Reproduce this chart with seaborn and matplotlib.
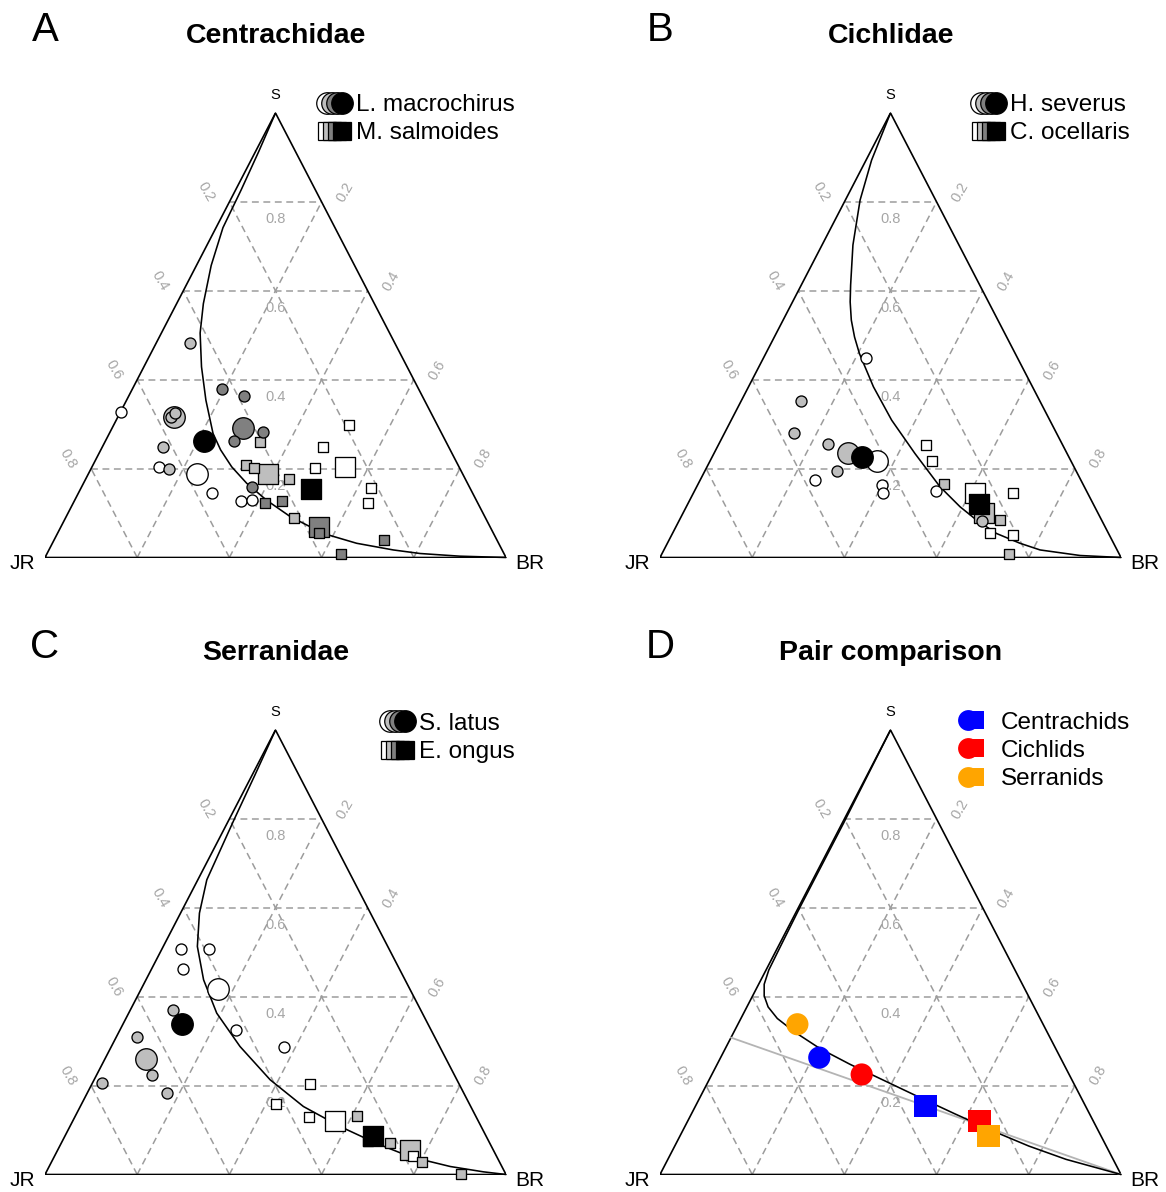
import matplotlib
matplotlib.use("Agg")
import matplotlib.pyplot as plt
import pandas as pd
import seaborn as sns
from matplotlib.lines import Line2D
from matplotlib.legend_handler import HandlerTuple

sns.set_style("white")
plt.rcParams['font.family'] = ['Liberation Sans', 'DejaVu Sans']
plt.rcParams['text.color'] = 'black'

FIG_W, FIG_H = 1166, 1192
SIDE_PX, HEIGHT_PX = 461, 444.5
FILL = {"w": "white", "l": "#bebebe", "d": "#808080", "k": "black"}
GRID_COL = "#9c9c9c"
TICKS = [0.2, 0.4, 0.6, 0.8]

# values are ternary proportions: BR and S (JR = 1 - BR - S)
# kind: lower case = single fish, upper case = group mean, K = overall mean

# A: Centrachidae
a_circ_br = [0.074, 0.002, 0.195, 0.250, 0.121, 0.116, 0.120, 0.214, 0.285, 0.332,
             0.278, 0.132, 0.146, 0.170, 0.235, 0.290, 0.371, 0.362, 0.384]
a_circ_s = [0.482, 0.327, 0.379, 0.364, 0.317, 0.315, 0.324, 0.263, 0.291, 0.283,
            0.262, 0.249, 0.204, 0.200, 0.188, 0.146, 0.158, 0.127, 0.129]
a_circ_kind = "lwddLllKDddlwlWwdww"
a_sq_br = [0.511, 0.479, 0.336, 0.332, 0.352, 0.391, 0.440, 0.485, 0.549, 0.499,
           0.629, 0.639, 0.416, 0.450, 0.496, 0.559, 0.567, 0.716, 0.638]
a_sq_s = [0.299, 0.249, 0.259, 0.209, 0.201, 0.187, 0.177, 0.201, 0.204, 0.154,
          0.156, 0.122, 0.122, 0.128, 0.089, 0.069, 0.054, 0.039, 0.007]
a_sq_kind = "wwlllLlwWKwwddlDddd"
a_curve_br = [0, 0.007, 0.012, 0.015, 0.032, 0.058, 0.084, 0.125, 0.172, 0.225, 0.260,
              0.303, 0.354, 0.416, 0.486, 0.577, 0.660, 0.747, 0.809, 0.898, 1.0]
a_curve_s = [1, 0.913, 0.827, 0.742, 0.657, 0.571, 0.505, 0.429, 0.354, 0.279, 0.242,
             0.204, 0.167, 0.129, 0.092, 0.054, 0.032, 0.017, 0.009, 0.003, 0]

# B: Cichlidae
b_circ_br = [0.223, 0.130, 0.151, 0.237, 0.290, 0.325, 0.362, 0.286, 0.249, 0.400,
             0.411, 0.523, 0.657]
b_circ_s = [0.448, 0.352, 0.281, 0.255, 0.234, 0.225, 0.217, 0.195, 0.174, 0.162,
            0.144, 0.150, 0.082]
b_circ_kind = "wlllLKWlwwwwl"
b_sq_br = [0.451, 0.482, 0.534, 0.611, 0.633, 0.653, 0.695, 0.689, 0.694, 0.741, 0.754]
b_sq_s = [0.252, 0.216, 0.165, 0.144, 0.120, 0.100, 0.084, 0.054, 0.144, 0.051, 0.007]
b_sq_kind = "wwlWKLlwwwl"
b_curve_br = [0, 0.012, 0.032, 0.067, 0.107, 0.125, 0.148, 0.174, 0.203, 0.271, 0.348,
              0.436, 0.528, 0.594, 0.645, 0.703, 0.765, 0.816, 0.909, 1.0]
b_curve_s = [1, 0.894, 0.804, 0.703, 0.613, 0.575, 0.534, 0.496, 0.459, 0.384, 0.309,
             0.234, 0.159, 0.114, 0.084, 0.054, 0.032, 0.017, 0.0045, 0]

# C: Serranidae
c_circ_br = [0.041, 0.102, 0.069, 0.167, 0.092, 0.129, 0.251, 0.375, 0.044, 0.090,
             0.120, 0.021, 0.173]
c_circ_s = [0.507, 0.507, 0.462, 0.417, 0.370, 0.338, 0.325, 0.286, 0.310, 0.259,
            0.224, 0.206, 0.183]
c_circ_kind = "wwwWlKwwlLlll"
c_sq_br = [0.473, 0.421, 0.509, 0.569, 0.611, 0.669, 0.662, 0.713, 0.764, 0.778, 0.804, 0.901]
c_sq_s = [0.203, 0.158, 0.129, 0.121, 0.132, 0.087, 0.076, 0.070, 0.055, 0.042, 0.027, 0.001]
c_sq_kind = "wwwWlKwlLwll"
c_curve_br = [0, 0.006, 0.011, 0.016, 0.0195, 0.041, 0.074, 0.125, 0.191, 0.279, 0.382,
              0.484, 0.586, 0.684, 0.772, 0.870, 0.948, 1.0]
c_curve_s = [1, 0.899, 0.798, 0.719, 0.663, 0.588, 0.513, 0.438, 0.363, 0.288, 0.213,
             0.153, 0.108, 0.070, 0.040, 0.018, 0.006, 0]

# D: pair comparison (overall means of each family)
pair_names = ["Centrachids", "Cichlids", "Serranids"]
pair_colors = ["#0000ff", "#ff0000", "#ffa500"]
pair_circ_br = [0.214, 0.325, 0.129]
pair_circ_s = [0.263, 0.225, 0.338]
pair_sq_br = [0.499, 0.633, 0.669]
pair_sq_s = [0.154, 0.120, 0.087]
pair_curve_br = [0, 0.003, 0.003, 0.005, 0.006, 0.012, 0.025, 0.046, 0.079, 0.131, 0.206,
                 0.288, 0.379, 0.470, 0.570, 0.670, 0.768, 0.864, 1.0]
pair_curve_s = [1, 0.79, 0.60, 0.50, 0.46, 0.428, 0.402, 0.377, 0.351, 0.321, 0.283,
                0.248, 0.212, 0.176, 0.137, 0.099, 0.064, 0.034, 0]
pair_line_br = [0.0, 1.0]
pair_line_s = [0.308, 0.0]


def tern(br, s):
    return [b + v / 2 for b, v in zip(br, s)], list(s)


fig = plt.figure(figsize=(FIG_W / 100, FIG_H / 100), dpi=100)


def make_ax(x0, yb):
    ax = fig.add_axes([x0 / FIG_W, (FIG_H - yb) / FIG_H, SIDE_PX / FIG_W, HEIGHT_PX / FIG_H])
    return ax


def draw_frame(ax):
    gkw = dict(color=GRID_COL, lw=1.1, dashes=(4.5, 3), zorder=1)
    for v in TICKS:
        ax.plot([v / 2, 1 - v / 2], [v, v], **gkw)
        ax.plot([v, v + (1 - v) / 2], [0, 1 - v], **gkw)
        ax.plot([1 - v, (1 - v) / 2], [0, 1 - v], **gkw)
    ax.plot([0, 1, 0.5, 0], [0, 0, 1, 0], color="black", lw=1.2, zorder=2,
            solid_joinstyle="miter")
    tkw = dict(textcoords="offset pixels", color="#a6a6a6", fontsize=10.5,
               ha="center", va="center")
    for v in TICKS:
        lab = f"{v:.1f}"
        ax.annotate(lab, ((1 - v) / 2, 1 - v), xytext=(-23, 10), rotation=-60, **tkw)
        ax.annotate(lab, (v + (1 - v) / 2, 1 - v), xytext=(23, 10), rotation=60, **tkw)
        ax.annotate(lab, (0.5, v), xytext=(0, -17), **tkw)
    vkw = dict(textcoords="offset pixels", ha="center", va="center", color="black")
    ax.annotate("S", (0.5, 1), xytext=(0, 18), fontsize=10.5, **vkw)
    ax.annotate("JR", (0, 0), xytext=(-23, -6), fontsize=15, **vkw)
    ax.annotate("BR", (1, 0), xytext=(24, -6), fontsize=15, **vkw)


def draw_points(ax, br, s, kinds, marker, small, big, z):
    x, y = tern(br, s)
    df = pd.DataFrame({"x": x, "y": y, "kind": list(kinds)})
    for i, group in enumerate(["WLD", "wld", "K"]):
        for k in group:
            sub = df[df["kind"] == k]
            if sub.empty:
                continue
            sns.scatterplot(data=sub, x="x", y="y", ax=ax, marker=marker,
                            s=big if k.isupper() else small, color=FILL[k.lower()],
                            edgecolor="black", linewidth=0.95, legend=False,
                            clip_on=False, zorder=z + i * 0.1)


def draw_curve(ax, br, s, color="black", lw=1.15, z=2.5):
    x, y = tern(br, s)
    ax.plot(x, y, color=color, lw=lw, zorder=z, clip_on=False)


def finish(ax):
    ax.set_xlim(0, 1)
    ax.set_ylim(0, 1)
    ax.axis("off")


def species_legend(ax, labels, yc):
    fills = [FILL["w"], FILL["l"], FILL["d"], FILL["k"]]
    rows = []
    for marker, ms in [("o", 15.5), ("s", 13.5)]:
        rows.append(tuple(Line2D([], [], marker=marker, markersize=ms, markerfacecolor=f,
                                 markeredgecolor="black", markeredgewidth=0.9,
                                 linestyle="none") for f in fills))
    ax.legend(rows, labels, handler_map={tuple: HandlerTuple(ndivide=None, pad=0)},
              loc="center right", bbox_to_anchor=(470 / SIDE_PX, yc),
              bbox_transform=ax.transAxes, frameon=False, fontsize=17.5,
              handlelength=0.86, handletextpad=0.46, borderpad=0, borderaxespad=0,
              labelspacing=0.26)


panels = [
    ("A", "Centrachidae", 45, 557.5),
    ("B", "Cichlidae", 660, 557.5),
    ("C", "Serranidae", 45, 1174.5),
    ("D", "Pair comparison", 660, 1174.5),
]
axes = {}
for letter, title, x0, yb in panels:
    ax = make_ax(x0, yb)
    axes[letter] = ax
    draw_frame(ax)
    fig.text(x0 / FIG_W, 1 - (yb - 527.5) / FIG_H, letter, fontsize=29,
             ha="center", va="center")
    fig.text((x0 + 231) / FIG_W, 1 - (yb - 521.5) / FIG_H, title, fontsize=20.5,
             fontweight="bold", ha="center", va="center")

ax = axes["A"]
draw_curve(ax, a_curve_br, a_curve_s)
draw_points(ax, a_sq_br, a_sq_s, a_sq_kind, "s", 52, 207, 3)
draw_points(ax, a_circ_br, a_circ_s, a_circ_kind, "o", 63, 240, 4)
species_legend(ax, ["L. macrochirus", "M. salmoides"], 0.986)
finish(ax)

ax = axes["B"]
draw_curve(ax, b_curve_br, b_curve_s)
draw_points(ax, b_sq_br, b_sq_s, b_sq_kind, "s", 52, 207, 3)
draw_points(ax, b_circ_br, b_circ_s, b_circ_kind, "o", 63, 240, 4)
species_legend(ax, ["H. severus", "C. ocellaris"], 0.986)
finish(ax)

ax = axes["C"]
draw_curve(ax, c_curve_br, c_curve_s)
draw_points(ax, c_sq_br, c_sq_s, c_sq_kind, "s", 52, 207, 3)
draw_points(ax, c_circ_br, c_circ_s, c_circ_kind, "o", 63, 240, 4)
species_legend(ax, ["S. latus", "E. ongus"], 0.982)
finish(ax)

ax = axes["D"]
draw_curve(ax, pair_line_br, pair_line_s, color="#b4b4b4", lw=1.3, z=2.4)
draw_curve(ax, pair_curve_br, pair_curve_s)
px, py = tern(pair_circ_br, pair_circ_s)
qx, qy = tern(pair_sq_br, pair_sq_s)
pair_df = pd.DataFrame({"family": pair_names, "cx": px, "cy": py, "sx": qx, "sy": qy})
pal = dict(zip(pair_names, pair_colors))
sns.scatterplot(data=pair_df, x="cx", y="cy", hue="family", palette=pal, marker="o",
                s=255, linewidth=0, legend=False, ax=ax, zorder=4, clip_on=False)
sns.scatterplot(data=pair_df, x="sx", y="sy", hue="family", palette=pal, marker="s",
                s=255, linewidth=0, legend=False, ax=ax, zorder=4, clip_on=False)
rows = [tuple(Line2D([], [], marker=m, markersize=ms, markerfacecolor=c, markeredgewidth=0,
                     linestyle="none") for m, ms in [("o", 15), ("s", 13.5)])
        for c in pair_colors]
ax.legend(rows, pair_names, handler_map={tuple: HandlerTuple(ndivide=None, pad=0)},
          loc="center right", bbox_to_anchor=(470 / SIDE_PX, 0.953),
          bbox_transform=ax.transAxes, frameon=False, fontsize=17.5,
          handlelength=0.54, handletextpad=0.93, borderpad=0, borderaxespad=0,
          labelspacing=0.26)
finish(ax)

fig.savefig("out.png", dpi=100)
